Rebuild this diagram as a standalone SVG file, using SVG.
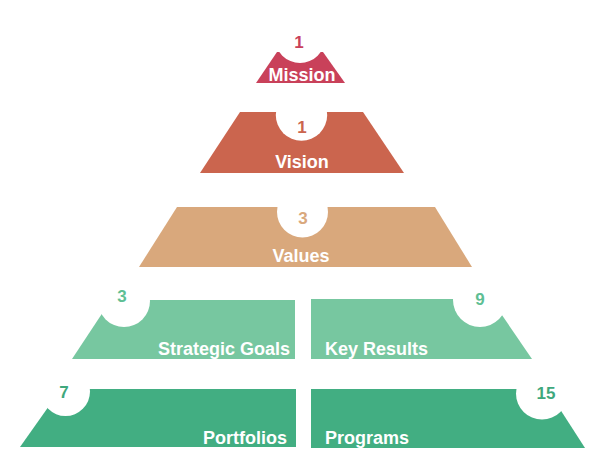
<svg xmlns="http://www.w3.org/2000/svg" width="600" height="465" viewBox="0 0 600 465">
<style>
.lbl{font-family:"Liberation Sans",Arial,sans-serif;font-weight:bold;font-size:18px;fill:#ffffff}
.num{font-family:"Liberation Sans",Arial,sans-serif;font-weight:bold;font-size:17px;text-anchor:middle}
.cut{fill:#ffffff}
.mission{fill:#c9415a}
.vision{fill:#cb654e}
.values{fill:#d9a87c}
.light{fill:#77c7a0}
.dark{fill:#42ae82}
</style>
<rect width="600" height="465" fill="#ffffff"/>
<g id="mission">
<polygon class="mission" points="256,83 277,52 323,52 345,83"/>
<circle class="cut" cx="300" cy="38" r="25"/>
<text class="num" x="299" y="48" style="fill:#c9415a">1</text>
<text class="lbl" x="302" y="81" text-anchor="middle">Mission</text>
</g>
<g id="vision">
<polygon class="vision" points="240,112 363,112 404,173 200,173"/>
<circle class="cut" cx="301.5" cy="115" r="25.7"/>
<text class="num" x="302" y="133" style="fill:#cb654e">1</text>
<text class="lbl" x="302" y="168" text-anchor="middle">Vision</text>
</g>
<g id="values">
<polygon class="values" points="177,207 435,207 472,267 139,267"/>
<circle class="cut" cx="302.5" cy="212" r="25.5"/>
<text class="num" x="303" y="224" style="fill:#d9a87c">3</text>
<text class="lbl" x="301" y="262" text-anchor="middle">Values</text>
</g>
<g id="strategic-goals">
<polygon class="light" points="111,300 295,300 295,359 72,359"/>
<circle class="cut" cx="124" cy="301" r="26"/>
<text class="num" x="122" y="302" style="fill:#5fbf94">3</text>
<text class="lbl" x="290" y="355" text-anchor="end">Strategic Goals</text>
</g>
<g id="key-results">
<polygon class="light" points="311,299 491,299 532,359 311,359"/>
<circle class="cut" cx="480" cy="300" r="27"/>
<text class="num" x="480" y="305" style="fill:#5fbf94">9</text>
<text class="lbl" x="325" y="355">Key Results</text>
</g>
<g id="portfolios">
<polygon class="dark" points="61,389 296,389 296,447 20,447"/>
<circle class="cut" cx="65.5" cy="391.5" r="24.5"/>
<text class="num" x="64" y="398" style="fill:#3fa87d">7</text>
<text class="lbl" x="287" y="444" text-anchor="end">Portfolios</text>
</g>
<g id="programs">
<polygon class="dark" points="311,389 547,389 585,448 311,448"/>
<circle class="cut" cx="542" cy="393.5" r="26"/>
<text class="num" x="546" y="399" style="fill:#3fa87d">15</text>
<text class="lbl" x="325" y="444">Programs</text>
</g>
<g id="connectors"/>
</svg>
